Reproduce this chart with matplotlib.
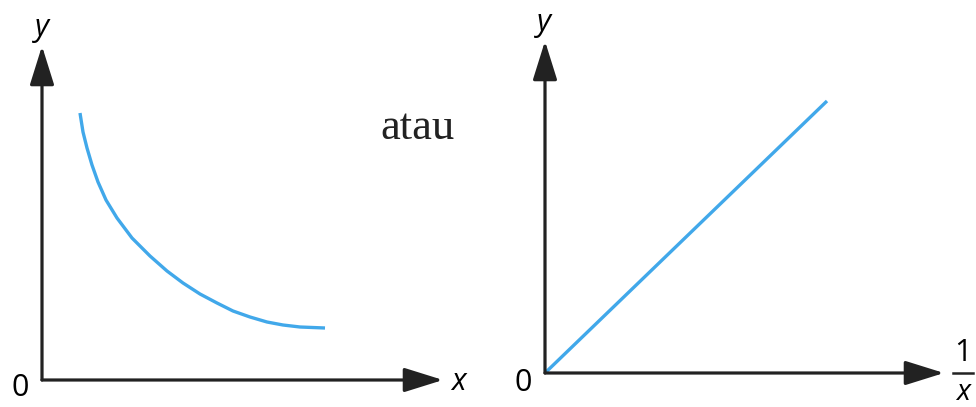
import matplotlib
matplotlib.use("Agg")
import matplotlib.pyplot as plt
from matplotlib.lines import Line2D

# Left panel: decreasing curve (values in panel units, origin at axis corner)
curve_x = [38, 41, 45, 50, 56, 64, 75, 90, 108, 125, 141, 158, 175, 191, 208, 225, 241, 258, 283]
curve_y = [267, 248, 232, 215, 198, 180, 162, 142, 124, 109, 97, 86, 77, 69, 63, 58, 55, 53, 52]

# Right panel: straight line through origin
line_x = [0, 282]
line_y = [0, 272]

separator_text = "atau"
left_labels = {"x": "x", "y": "y", "origin": "0"}
right_labels = {"x_num": "1", "x_den": "x", "y": "y", "origin": "0"}

AX_COL = "#222222"
BLUE = "#41A8EA"
SANS = ["Open Sans", "DejaVu Sans"]

fig = plt.figure(figsize=(9.76, 4.07), dpi=100)
W, H = 976, 407


def make_axes(ox, oy, w, h):
    ax = fig.add_axes([ox / W, (H - oy) / H, w / W, h / H])
    ax.set_xlim(0, w)
    ax.set_ylim(0, h)
    ax.axis("off")
    return ax


def arrow(ax, x1, y1):
    ax.annotate("", xy=(x1, y1), xytext=(0, 0),
                arrowprops=dict(arrowstyle="-|>,head_length=24,head_width=7.5",
                                mutation_scale=1, lw=2.3, color=AX_COL,
                                shrinkA=0, shrinkB=0),
                annotation_clip=False)


# ---- left panel ----
axL = make_axes(42, 380, 440, 380)
arrow(axL, 401, 0)
arrow(axL, 0, 334)
axL.plot(curve_x, curve_y, color=BLUE, lw=2.4, solid_capstyle="butt",
         solid_joinstyle="round")
axL.text(0, 352, left_labels["y"], fontsize=22, style="italic", family=SANS,
         ha="center", va="center")
axL.text(416, -2, left_labels["x"], fontsize=22, style="italic", family=SANS,
         ha="center", va="center")
axL.text(-22, -8, left_labels["origin"], fontsize=22, family=SANS,
         ha="center", va="center")

# ---- right panel ----
axR = make_axes(545, 373, 431, 373)
arrow(axR, 399, 0)
arrow(axR, 0, 332)
axR.plot(line_x, line_y, color=BLUE, lw=2.4, solid_capstyle="butt")
axR.text(-1, 350, right_labels["y"], fontsize=22, style="italic", family=SANS,
         ha="center", va="center")
axR.text(-22, -10, right_labels["origin"], fontsize=22, family=SANS,
         ha="center", va="center")
axR.text(418, 20, right_labels["x_num"], fontsize=22, family=SANS,
         ha="center", va="center")
axR.text(418, -19, right_labels["x_den"], fontsize=21, style="italic", family=SANS,
         ha="center", va="center")
axR.add_line(Line2D([408, 428], [0, 0], color=AX_COL, lw=1.8, clip_on=False))

# ---- separator word ----
fig.text(418 / W, 1 - 128 / H, separator_text, fontsize=32,
         family=["Liberation Serif", "DejaVu Serif"], ha="center", va="center",
         color="#222222")

fig.savefig("out.png", dpi=100, facecolor="white")
